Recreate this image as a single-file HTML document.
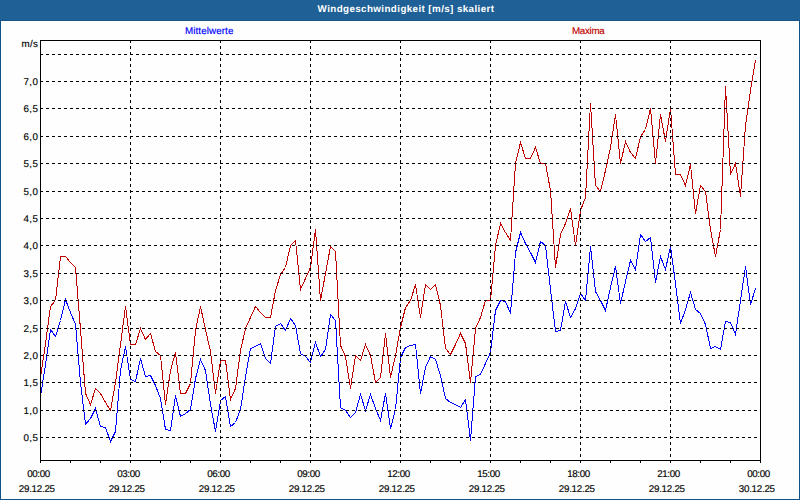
<!DOCTYPE html>
<html><head><meta charset="utf-8"><title>Windgeschwindigkeit</title><style>
html,body{margin:0;padding:0}
body{width:800px;height:500px;position:relative;overflow:hidden;background:#fdfefd;font-family:"Liberation Sans",sans-serif;}
#hdr{position:absolute;left:0;top:0;width:800px;height:20px;background:#1f6196;border-bottom:1px solid #145489}
#bl,#br,#bb{position:absolute;background:#0f5189}
#bl{left:0;top:20px;width:1px;height:480px}
#br{left:799px;top:20px;width:1px;height:480px}
#bb{left:0;top:499px;width:800px;height:1px}
#title{position:absolute;left:6px;top:0;width:800px;height:20px;line-height:19px;text-align:center;color:#fff;font-weight:bold;font-size:9.8px;letter-spacing:0.4px;text-rendering:geometricPrecision}
.t{position:absolute;font-size:9.8px;line-height:12px;color:#000;white-space:nowrap;text-rendering:geometricPrecision;-webkit-text-stroke:0.15px}
.yl{text-align:right;width:30px;left:8.5px;letter-spacing:0.5px}
.xl{text-align:center;width:60px;letter-spacing:-0.15px}

</style></head><body>
<div id="hdr"></div><div id="title">Windgeschwindigkeit [m/s] skaliert</div>
<svg width="800" height="500" viewBox="0 0 800 500" style="position:absolute;left:0;top:0" shape-rendering="crispEdges">
<polyline points="40.5,396.5 45.5,364.5 50.5,329.5 55.5,336.5 60.5,320.5 65.5,299.5 70.5,312.5 75.5,324.5 80.5,382.5 85.5,424.5 90.5,418.5 95.5,408.5 100.5,426.5 105.5,427.5 110.5,441.5 115.5,431.5 120.5,370.5 125.5,346.5 130.5,379.5 135.5,381.5 140.5,358.5 145.5,376.5 150.5,375.5 155.5,385.5 160.5,398.5 165.5,429.5 170.5,430.5 175.5,395.5 180.5,416.5 185.5,413.5 190.5,409.5 195.5,378.5 200.5,359.5 205.5,370.5 210.5,404.5 215.5,431.5 220.5,400.5 225.5,396.5 230.5,426.5 235.5,422.5 240.5,409.5 245.5,376.5 250.5,348.5 255.5,346.5 260.5,343.5 265.5,358.5 270.5,363.5 275.5,326.5 280.5,323.5 285.5,330.5 290.5,318.5 295.5,325.5 300.5,353.5 305.5,356.5 310.5,362.5 315.5,342.5 320.5,356.5 325.5,349.5 330.5,314.5 335.5,320.5 340.5,407.5 345.5,410.5 350.5,417.5 355.5,412.5 360.5,394.5 365.5,410.5 370.5,394.5 375.5,408.5 380.5,420.5 385.5,393.5 390.5,428.5 395.5,409.5 400.5,357.5 405.5,347.5 410.5,345.5 415.5,344.5 420.5,393.5 425.5,367.5 430.5,356.5 435.5,359.5 440.5,375.5 445.5,398.5 450.5,402.5 455.5,404.5 460.5,407.5 465.5,399.5 470.5,440.5 475.5,376.5 480.5,374.5 485.5,363.5 490.5,352.5 495.5,310.5 500.5,300.5 505.5,301.5 510.5,313.5 515.5,252.5 520.5,232.5 525.5,243.5 530.5,252.5 535.5,262.5 540.5,241.5 545.5,245.5 550.5,289.5 555.5,331.5 560.5,330.5 565.5,301.5 570.5,317.5 575.5,308.5 580.5,293.5 585.5,300.5 590.5,246.5 595.5,291.5 600.5,300.5 605.5,310.5 610.5,287.5 615.5,266.5 620.5,303.5 625.5,281.5 630.5,260.5 635.5,269.5 640.5,234.5 645.5,241.5 650.5,237.5 655.5,282.5 660.5,256.5 665.5,269.5 670.5,246.5 675.5,283.5 680.5,323.5 685.5,309.5 690.5,292.5 695.5,309.5 700.5,313.5 705.5,324.5 710.5,348.5 715.5,346.5 720.5,349.5 725.5,321.5 730.5,322.5 735.5,334.5 740.5,300.5 745.5,266.5 750.5,304.5 755.5,288.5" fill="none" stroke="#0000ff" stroke-width="1"/>
<polyline points="40.5,377.5 45.5,343.5 50.5,306.5 55.5,300.5 60.5,256.5 65.5,256.5 70.5,262.5 75.5,267.5 80.5,329.5 85.5,393.5 90.5,404.5 95.5,388.5 100.5,393.5 105.5,402.5 110.5,410.5 115.5,382.5 120.5,344.5 125.5,306.5 130.5,344.5 135.5,344.5 140.5,328.5 145.5,339.5 150.5,333.5 155.5,351.5 160.5,355.5 165.5,404.5 170.5,370.5 175.5,352.5 180.5,393.5 185.5,393.5 190.5,383.5 195.5,330.5 200.5,306.5 205.5,329.5 210.5,351.5 215.5,393.5 220.5,360.5 225.5,360.5 230.5,399.5 235.5,388.5 240.5,350.5 245.5,328.5 250.5,317.5 255.5,306.5 260.5,312.5 265.5,317.5 270.5,317.5 275.5,290.5 280.5,274.5 285.5,267.5 290.5,245.5 295.5,240.5 300.5,289.5 305.5,278.5 310.5,267.5 315.5,229.5 320.5,300.5 325.5,273.5 330.5,246.5 335.5,251.5 340.5,345.5 345.5,356.5 350.5,388.5 355.5,355.5 360.5,360.5 365.5,344.5 370.5,355.5 375.5,382.5 380.5,377.5 385.5,333.5 390.5,377.5 395.5,355.5 400.5,327.5 405.5,307.5 410.5,300.5 415.5,284.5 420.5,317.5 425.5,284.5 430.5,289.5 435.5,284.5 440.5,305.5 445.5,348.5 450.5,354.5 455.5,344.5 460.5,333.5 465.5,343.5 470.5,382.5 475.5,328.5 480.5,317.5 485.5,300.5 490.5,300.5 495.5,245.5 500.5,223.5 505.5,232.5 510.5,240.5 515.5,163.5 520.5,142.5 525.5,158.5 530.5,158.5 535.5,147.5 540.5,163.5 545.5,163.5 550.5,190.5 555.5,267.5 560.5,234.5 565.5,223.5 570.5,208.5 575.5,245.5 580.5,210.5 585.5,197.5 590.5,103.5 595.5,185.5 600.5,191.5 605.5,170.5 610.5,147.5 615.5,114.5 620.5,163.5 625.5,141.5 630.5,152.5 635.5,158.5 640.5,136.5 645.5,129.5 650.5,108.5 655.5,163.5 660.5,114.5 665.5,141.5 670.5,108.5 675.5,174.5 680.5,174.5 685.5,185.5 690.5,164.5 695.5,213.5 700.5,185.5 705.5,191.5 710.5,229.5 715.5,256.5 720.5,229.5 725.5,86.5 730.5,174.5 735.5,163.5 740.5,196.5 745.5,125.5 750.5,90.5 755.5,60.5" fill="none" stroke="#c00000" stroke-width="1"/>
<line x1="40" y1="54.5" x2="758" y2="54.5" stroke="#000" stroke-width="1" stroke-dasharray="3 3"/>
<line x1="40" y1="81.5" x2="758" y2="81.5" stroke="#000" stroke-width="1" stroke-dasharray="3 3"/>
<line x1="40" y1="108.5" x2="758" y2="108.5" stroke="#000" stroke-width="1" stroke-dasharray="3 3"/>
<line x1="40" y1="136.5" x2="758" y2="136.5" stroke="#000" stroke-width="1" stroke-dasharray="3 3"/>
<line x1="40" y1="163.5" x2="758" y2="163.5" stroke="#000" stroke-width="1" stroke-dasharray="3 3"/>
<line x1="40" y1="191.5" x2="758" y2="191.5" stroke="#000" stroke-width="1" stroke-dasharray="3 3"/>
<line x1="40" y1="218.5" x2="758" y2="218.5" stroke="#000" stroke-width="1" stroke-dasharray="3 3"/>
<line x1="40" y1="245.5" x2="758" y2="245.5" stroke="#000" stroke-width="1" stroke-dasharray="3 3"/>
<line x1="40" y1="273.5" x2="758" y2="273.5" stroke="#000" stroke-width="1" stroke-dasharray="3 3"/>
<line x1="40" y1="300.5" x2="758" y2="300.5" stroke="#000" stroke-width="1" stroke-dasharray="3 3"/>
<line x1="40" y1="328.5" x2="758" y2="328.5" stroke="#000" stroke-width="1" stroke-dasharray="3 3"/>
<line x1="40" y1="355.5" x2="758" y2="355.5" stroke="#000" stroke-width="1" stroke-dasharray="3 3"/>
<line x1="40" y1="382.5" x2="758" y2="382.5" stroke="#000" stroke-width="1" stroke-dasharray="3 3"/>
<line x1="40" y1="410.5" x2="758" y2="410.5" stroke="#000" stroke-width="1" stroke-dasharray="3 3"/>
<line x1="40" y1="437.5" x2="758" y2="437.5" stroke="#000" stroke-width="1" stroke-dasharray="3 3"/>
<line x1="130.5" y1="40" x2="130.5" y2="460" stroke="#000" stroke-width="1" stroke-dasharray="3 3"/>
<line x1="220.5" y1="40" x2="220.5" y2="460" stroke="#000" stroke-width="1" stroke-dasharray="3 3"/>
<line x1="310.5" y1="40" x2="310.5" y2="460" stroke="#000" stroke-width="1" stroke-dasharray="3 3"/>
<line x1="400.5" y1="40" x2="400.5" y2="460" stroke="#000" stroke-width="1" stroke-dasharray="3 3"/>
<line x1="490.5" y1="40" x2="490.5" y2="460" stroke="#000" stroke-width="1" stroke-dasharray="3 3"/>
<line x1="580.5" y1="40" x2="580.5" y2="460" stroke="#000" stroke-width="1" stroke-dasharray="3 3"/>
<line x1="670.5" y1="40" x2="670.5" y2="460" stroke="#000" stroke-width="1" stroke-dasharray="3 3"/>
<rect x="40.5" y="40.5" width="720" height="420" fill="none" stroke="#000" stroke-width="1"/>
<line x1="40.5" y1="460" x2="40.5" y2="463" stroke="#000" stroke-width="1"/>
<line x1="70.5" y1="460" x2="70.5" y2="463" stroke="#000" stroke-width="1"/>
<line x1="100.5" y1="460" x2="100.5" y2="463" stroke="#000" stroke-width="1"/>
<line x1="130.5" y1="460" x2="130.5" y2="463" stroke="#000" stroke-width="1"/>
<line x1="160.5" y1="460" x2="160.5" y2="463" stroke="#000" stroke-width="1"/>
<line x1="190.5" y1="460" x2="190.5" y2="463" stroke="#000" stroke-width="1"/>
<line x1="220.5" y1="460" x2="220.5" y2="463" stroke="#000" stroke-width="1"/>
<line x1="250.5" y1="460" x2="250.5" y2="463" stroke="#000" stroke-width="1"/>
<line x1="280.5" y1="460" x2="280.5" y2="463" stroke="#000" stroke-width="1"/>
<line x1="310.5" y1="460" x2="310.5" y2="463" stroke="#000" stroke-width="1"/>
<line x1="340.5" y1="460" x2="340.5" y2="463" stroke="#000" stroke-width="1"/>
<line x1="370.5" y1="460" x2="370.5" y2="463" stroke="#000" stroke-width="1"/>
<line x1="400.5" y1="460" x2="400.5" y2="463" stroke="#000" stroke-width="1"/>
<line x1="430.5" y1="460" x2="430.5" y2="463" stroke="#000" stroke-width="1"/>
<line x1="460.5" y1="460" x2="460.5" y2="463" stroke="#000" stroke-width="1"/>
<line x1="490.5" y1="460" x2="490.5" y2="463" stroke="#000" stroke-width="1"/>
<line x1="520.5" y1="460" x2="520.5" y2="463" stroke="#000" stroke-width="1"/>
<line x1="550.5" y1="460" x2="550.5" y2="463" stroke="#000" stroke-width="1"/>
<line x1="580.5" y1="460" x2="580.5" y2="463" stroke="#000" stroke-width="1"/>
<line x1="610.5" y1="460" x2="610.5" y2="463" stroke="#000" stroke-width="1"/>
<line x1="640.5" y1="460" x2="640.5" y2="463" stroke="#000" stroke-width="1"/>
<line x1="670.5" y1="460" x2="670.5" y2="463" stroke="#000" stroke-width="1"/>
<line x1="700.5" y1="460" x2="700.5" y2="463" stroke="#000" stroke-width="1"/>
<line x1="730.5" y1="460" x2="730.5" y2="463" stroke="#000" stroke-width="1"/>
<line x1="760.5" y1="460" x2="760.5" y2="463" stroke="#000" stroke-width="1"/>
</svg>
<div class="t yl" style="top:39px;left:8.4px;letter-spacing:0.4px">m/s</div>
<div class="t yl" style="top:77px">7,0</div>
<div class="t yl" style="top:104px">6,5</div>
<div class="t yl" style="top:132px">6,0</div>
<div class="t yl" style="top:159px">5,5</div>
<div class="t yl" style="top:187px">5,0</div>
<div class="t yl" style="top:214px">4,5</div>
<div class="t yl" style="top:241px">4,0</div>
<div class="t yl" style="top:269px">3,5</div>
<div class="t yl" style="top:296px">3,0</div>
<div class="t yl" style="top:324px">2,5</div>
<div class="t yl" style="top:351px">2,0</div>
<div class="t yl" style="top:378px">1,5</div>
<div class="t yl" style="top:406px">1,0</div>
<div class="t yl" style="top:433px">0,5</div>
<div class="t xl" style="left:8.5px;top:469px;letter-spacing:-0.4px">00:00</div>
<div class="t xl" style="left:6.8px;top:484px;letter-spacing:-0.27px">29.12.25</div>
<div class="t xl" style="left:98.5px;top:469px;letter-spacing:-0.4px">03:00</div>
<div class="t xl" style="left:96.8px;top:484px;letter-spacing:-0.27px">29.12.25</div>
<div class="t xl" style="left:188.5px;top:469px;letter-spacing:-0.4px">06:00</div>
<div class="t xl" style="left:186.8px;top:484px;letter-spacing:-0.27px">29.12.25</div>
<div class="t xl" style="left:278.5px;top:469px;letter-spacing:-0.4px">09:00</div>
<div class="t xl" style="left:276.8px;top:484px;letter-spacing:-0.27px">29.12.25</div>
<div class="t xl" style="left:368.5px;top:469px;letter-spacing:-0.4px">12:00</div>
<div class="t xl" style="left:366.8px;top:484px;letter-spacing:-0.27px">29.12.25</div>
<div class="t xl" style="left:458.5px;top:469px;letter-spacing:-0.4px">15:00</div>
<div class="t xl" style="left:456.8px;top:484px;letter-spacing:-0.27px">29.12.25</div>
<div class="t xl" style="left:548.5px;top:469px;letter-spacing:-0.4px">18:00</div>
<div class="t xl" style="left:546.8px;top:484px;letter-spacing:-0.27px">29.12.25</div>
<div class="t xl" style="left:638.5px;top:469px;letter-spacing:-0.4px">21:00</div>
<div class="t xl" style="left:636.8px;top:484px;letter-spacing:-0.27px">29.12.25</div>
<div class="t xl" style="left:728.5px;top:469px;letter-spacing:-0.4px">00:00</div>
<div class="t xl" style="left:726.8px;top:484px;letter-spacing:-0.27px">30.12.25</div>
<div class="t" style="left:185px;top:26px;color:#0000ff;letter-spacing:0.1px">Mittelwerte</div>
<div class="t" style="left:572px;top:26px;color:#c00000;letter-spacing:-0.3px">Maxima</div>
<div id="bl"></div><div id="br"></div><div id="bb"></div>
</body></html>
